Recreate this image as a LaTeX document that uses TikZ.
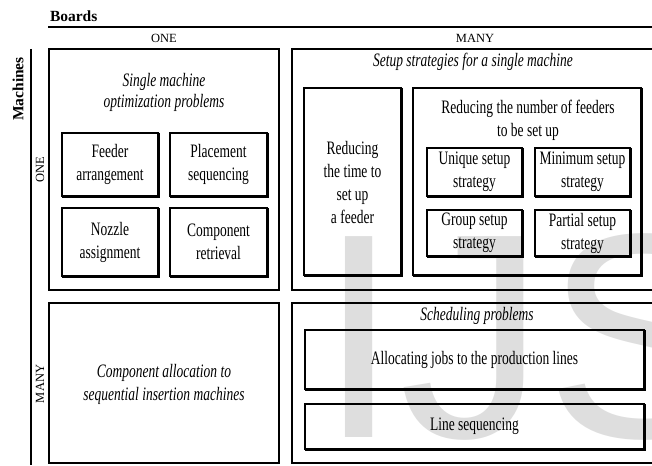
\documentclass[tikz,border=0pt]{standalone}
\usepackage{fontspec}
\setmainfont{Liberation Serif}[FakeStretch=0.71]
\newfontfamily\labfont{Liberation Serif}
\newfontfamily\wmfont{Liberation Sans}
\begin{document}
\begin{tikzpicture}[x=1pt,y=-1pt,
  every node/.style={inner sep=0pt, outer sep=0pt},
  boxtext/.style={font=\fontsize{19}{23}\selectfont, align=center},
  ititle/.style={font=\fontsize{19}{21}\selectfont\itshape, align=center},
  frame/.style={draw, line width=1.1pt, rectangle},
  bigframe/.style={draw, line width=1.4pt, rectangle},
  shadowline/.style={line width=1.1pt},
  toplabel/.style={font=\labfont\fontsize{12.5}{14}\selectfont},
  headlabel/.style={font=\labfont\bfseries\fontsize{15.5}{18}\selectfont}]
\useasboundingbox (0,0) rectangle (652,465);
\clip (0,0) rectangle (652,465);
% watermark
\node[anchor=base west, text=black!13, font=\wmfont\fontsize{292}{292}\selectfont] (wm) at (318,437) {IJS};
% headers
\node[headlabel, anchor=base west] (boards) at (50,22) {Boards};
\coordinate (tl) at (48,27);
\coordinate (tr) at (652,27);
\draw[line width=1.8pt] (tl) -- (tr);
\node[toplabel] (one) at (164,38) {ONE};
\node[toplabel] (many) at (475,38) {MANY};
\node[headlabel, rotate=90] (mach) at (18,89) {Machines};
\coordinate (lt) at (31,49);
\coordinate (lb) at (31,465);
\draw[line width=1.6pt] (lt) -- (lb);
\node[toplabel, rotate=90] (oneL) at (40,170) {ONE};
\node[toplabel, rotate=90] (manyL) at (40,384) {MANY};
% big frames
\node[bigframe, minimum width=230, minimum height=241] (oo) at (164,169.5) {};
\node[bigframe, minimum width=408, minimum height=241] (mo) at (496,169.5) {};
\node[bigframe, minimum width=230, minimum height=160] (om) at (164,383) {};
\node[bigframe, minimum width=408, minimum height=160] (mm) at (496,383) {};
% titles
\node[ititle] (t1) at (164,92.5) {Single machine\\optimization problems};
\node[ititle] (t2) at (473,62) {Setup strategies for a single machine};
\node[ititle] (t3) at (477,316) {Scheduling problems};
\node[ititle, font=\fontsize{19}{23}\selectfont\itshape] (t4) at (164,384) {Component allocation to\\sequential insertion machines};
% inner boxes
\node[frame, boxtext, minimum width=96, minimum height=63] (feed) at (110,164.5) {Feeder\\arrangement};
\node[frame, boxtext, minimum width=97, minimum height=63] (place) at (218.5,164.5) {Placement\\sequencing};
\node[frame, boxtext, minimum width=96, minimum height=68] (nozzle) at (110,242) {Nozzle\\assignment};
\node[frame, boxtext, minimum width=97, minimum height=68] (retr) at (218.5,242) {Component\\retrieval};
\node[frame, boxtext, minimum width=97, minimum height=187] (rtime) at (352.5,181.5) {};
\node[boxtext] (rtimet) at (352.5,182) {Reducing\\the time to\\set up\\a feeder};
\node[frame, minimum width=228, minimum height=187] (rnum) at (527,181.5) {};
\node[boxtext] (rnumt) at (528,120) {Reducing the number of feeders\\to be set up};
\node[frame, boxtext, minimum width=95, minimum height=48] (uniq) at (474.5,172) {Unique setup\\strategy};
\node[frame, boxtext, minimum width=95, minimum height=48] (mini) at (582.5,172) {Minimum setup\\strategy};
\node[frame, boxtext, minimum width=95, minimum height=46] (group) at (474.5,233) {Group setup\\strategy};
\node[frame, boxtext, minimum width=95, minimum height=46] (part) at (582.5,233) {Partial setup\\strategy};
\node[frame, boxtext, minimum width=339, minimum height=59] (alloc) at (474.5,359.5) {Allocating jobs to the production lines};
\node[frame, boxtext, minimum width=339, minimum height=45] (lseq) at (474.5,426.5) {Line sequencing};
% shadows
\foreach \n in {feed,place,nozzle,retr,rtime,rnum,uniq,mini,group,part,alloc,lseq}{
  \draw[shadowline] ([xshift=1pt]\n.north east) -- ([xshift=1pt,yshift=-1pt]\n.south east) -- ([yshift=-1pt]\n.south west);
}
\end{tikzpicture}
\end{document}
